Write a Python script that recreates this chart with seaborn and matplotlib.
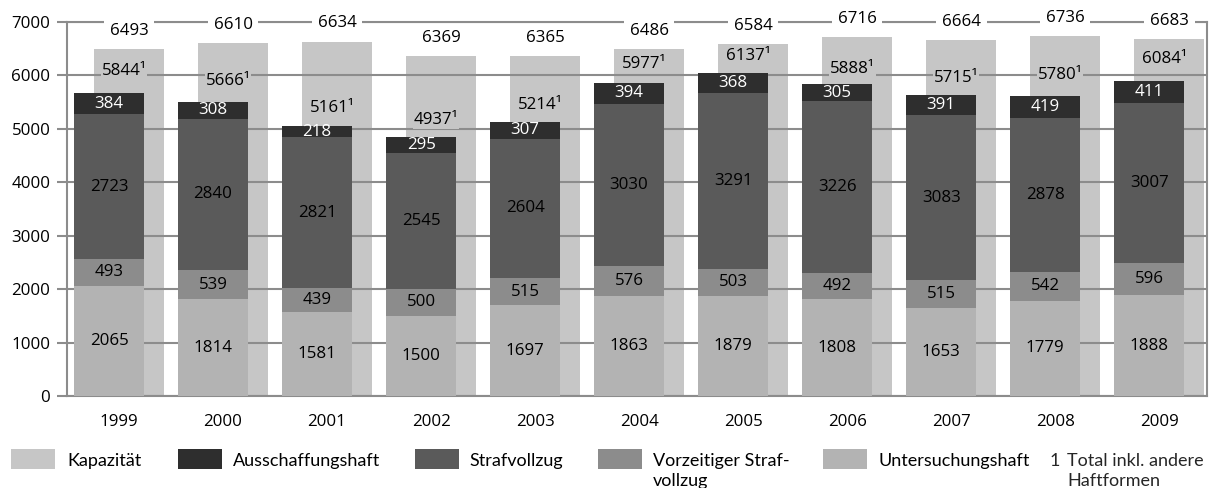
import matplotlib
matplotlib.use("Agg")
import matplotlib.pyplot as plt
from matplotlib.patches import Rectangle
import numpy as np
import pandas as pd
import seaborn as sns

# ---------------- data ----------------
years = [1999, 2000, 2001, 2002, 2003, 2004, 2005, 2006, 2007, 2008, 2009]
kapazitaet = [6493, 6610, 6634, 6369, 6365, 6486, 6584, 6716, 6664, 6736, 6683]
total = [5844, 5666, 5161, 4937, 5214, 5977, 6137, 5888, 5715, 5780, 6084]
ausschaffungshaft = [384, 308, 218, 295, 307, 394, 368, 305, 391, 419, 411]
strafvollzug = [2723, 2840, 2821, 2545, 2604, 3030, 3291, 3226, 3083, 2878, 3007]
vorzeitiger = [493, 539, 439, 500, 515, 576, 503, 492, 515, 542, 596]
untersuchungshaft = [2065, 1814, 1581, 1500, 1697, 1863, 1879, 1808, 1653, 1779, 1888]

legend_labels = ["Kapazität", "Ausschaffungshaft", "Strafvollzug",
                 "Vorzeitiger Straf-\nvollzug", "Untersuchungshaft"]
footnote_mark = "1"
footnote_text = "Total inkl. andere\nHaftformen"
y_ticks = [0, 1000, 2000, 3000, 4000, 5000, 6000, 7000]

# ---------------- style ----------------
sns.set_theme(style="white")
plt.rcParams['font.family'] = ['Lato', 'DejaVu Sans']
NUMFONT = ['Open Sans', 'DejaVu Sans']

C_KAP = '#c6c6c6'
C_AUS = '#2e2e2e'
C_STR = '#5a5a5a'
C_VOR = '#8c8c8c'
C_UNT = '#b3b3b3'
GRID = '#8c8c8c'
FS = 12.2

W, H = 1212, 488
fig = plt.figure(figsize=(W / 100, H / 100), dpi=100)
ax = fig.add_axes([67 / W, 1 - 396 / H, 1140 / W, 374 / H])

OFF = 0.096
BW = 0.673

df = pd.DataFrame({
    'year': years,
    'kap': kapazitaet,
    'tot': total,
    'aus': ausschaffungshaft,
    'str': strafvollzug,
    'vor': vorzeitiger,
    'unt': untersuchungshaft,
})
df['x_kap'] = df['year'] + OFF
df['x_stk'] = df['year'] - OFF
df['c1'] = df['unt']
df['c2'] = df['c1'] + df['vor']
df['c3'] = df['c2'] + df['str']
df['c4'] = df['c3'] + df['aus']

common = dict(native_scale=True, width=BW, saturation=1, linewidth=0,
              errorbar=None, orient='x', ax=ax)
sns.barplot(data=df, x='x_kap', y='kap', color=C_KAP, zorder=1, **common)
for col, c in [('c4', C_AUS), ('c3', C_STR), ('c2', C_VOR), ('c1', C_UNT)]:
    sns.barplot(data=df, x='x_stk', y=col, color=c, zorder=3, **common)

# axes styling
ax.set_xlim(1998.5, 2009.46)
ax.set_ylim(0, 7000)
ax.set_yticks(y_ticks)
ax.set_yticklabels([str(v) for v in y_ticks])
ax.set_xticks(years)
ax.set_xticklabels([str(y) for y in years])
ax.set_xlabel('')
ax.set_ylabel('')
ax.set_axisbelow('line')
ax.yaxis.grid(True, color=GRID, lw=1.5)
ax.xaxis.grid(False)
for s in ax.spines.values():
    s.set_visible(True)
    s.set_color(GRID)
    s.set_linewidth(1.5)
ax.tick_params(axis='y', length=7, width=1.5, color=GRID, direction='out',
               pad=5, labelsize=FS, labelcolor='black', left=True)
ax.tick_params(axis='x', length=0, pad=13, labelsize=FS, labelcolor='black')
for lab in ax.get_xticklabels() + ax.get_yticklabels():
    lab.set_fontfamily(NUMFONT)

# value labels
for _, r in df.iterrows():
    xs = r['x_stk']
    segs = [(0, r['unt'], 'black'),
            (r['c1'], r['vor'], 'black'),
            (r['c2'], r['str'], 'black'),
            (r['c3'], r['aus'], 'white')]
    for b, v, tc in segs:
        ax.text(xs, b + v / 2, f"{int(v)}", ha='center', va='center',
                fontsize=FS, color=tc, zorder=4, family=NUMFONT)
    ax.text(r['x_kap'], r['kap'] + 340, f"{int(r['kap'])}", ha='center', va='center',
            fontsize=FS, color='black', zorder=5, clip_on=False, family=NUMFONT,
            bbox=dict(boxstyle='square,pad=0.35', fc='white', ec='none'))
    ax.text(r['year'] + 0.05, r['tot'] + 230, f"{int(r['tot'])}\u00b9", ha='center',
            va='center', fontsize=FS, color='black', zorder=2, family=NUMFONT,
            bbox=dict(boxstyle='square,pad=0.05', fc=C_KAP, ec='none'))

# legend (manual, to match layout)
patch_x = [11, 178, 415, 598, 823]
text_x = [67, 233, 469, 653, 879]
colors = [C_KAP, C_AUS, C_STR, C_VOR, C_UNT]
for px, tx, c, lab in zip(patch_x, text_x, colors, legend_labels):
    fig.add_artist(Rectangle((px / W, 1 - 469 / H), 44 / W, 20 / H,
                             transform=fig.transFigure, fc=c, ec='none'))
    for k, line in enumerate(lab.split('\n')):
        fig.text(tx / W, 1 - (466 + 20 * k) / H, line, fontsize=13,
                 va='baseline', ha='left', color='black')
fig.text(1050 / W, 1 - 466 / H, footnote_mark, fontsize=13, va='baseline', ha='left')
for k, line in enumerate(footnote_text.split('\n')):
    fig.text(1067 / W, 1 - (466 + 20 * k) / H, line, fontsize=13,
             va='baseline', ha='left')

fig.savefig('out.png', dpi=100)
